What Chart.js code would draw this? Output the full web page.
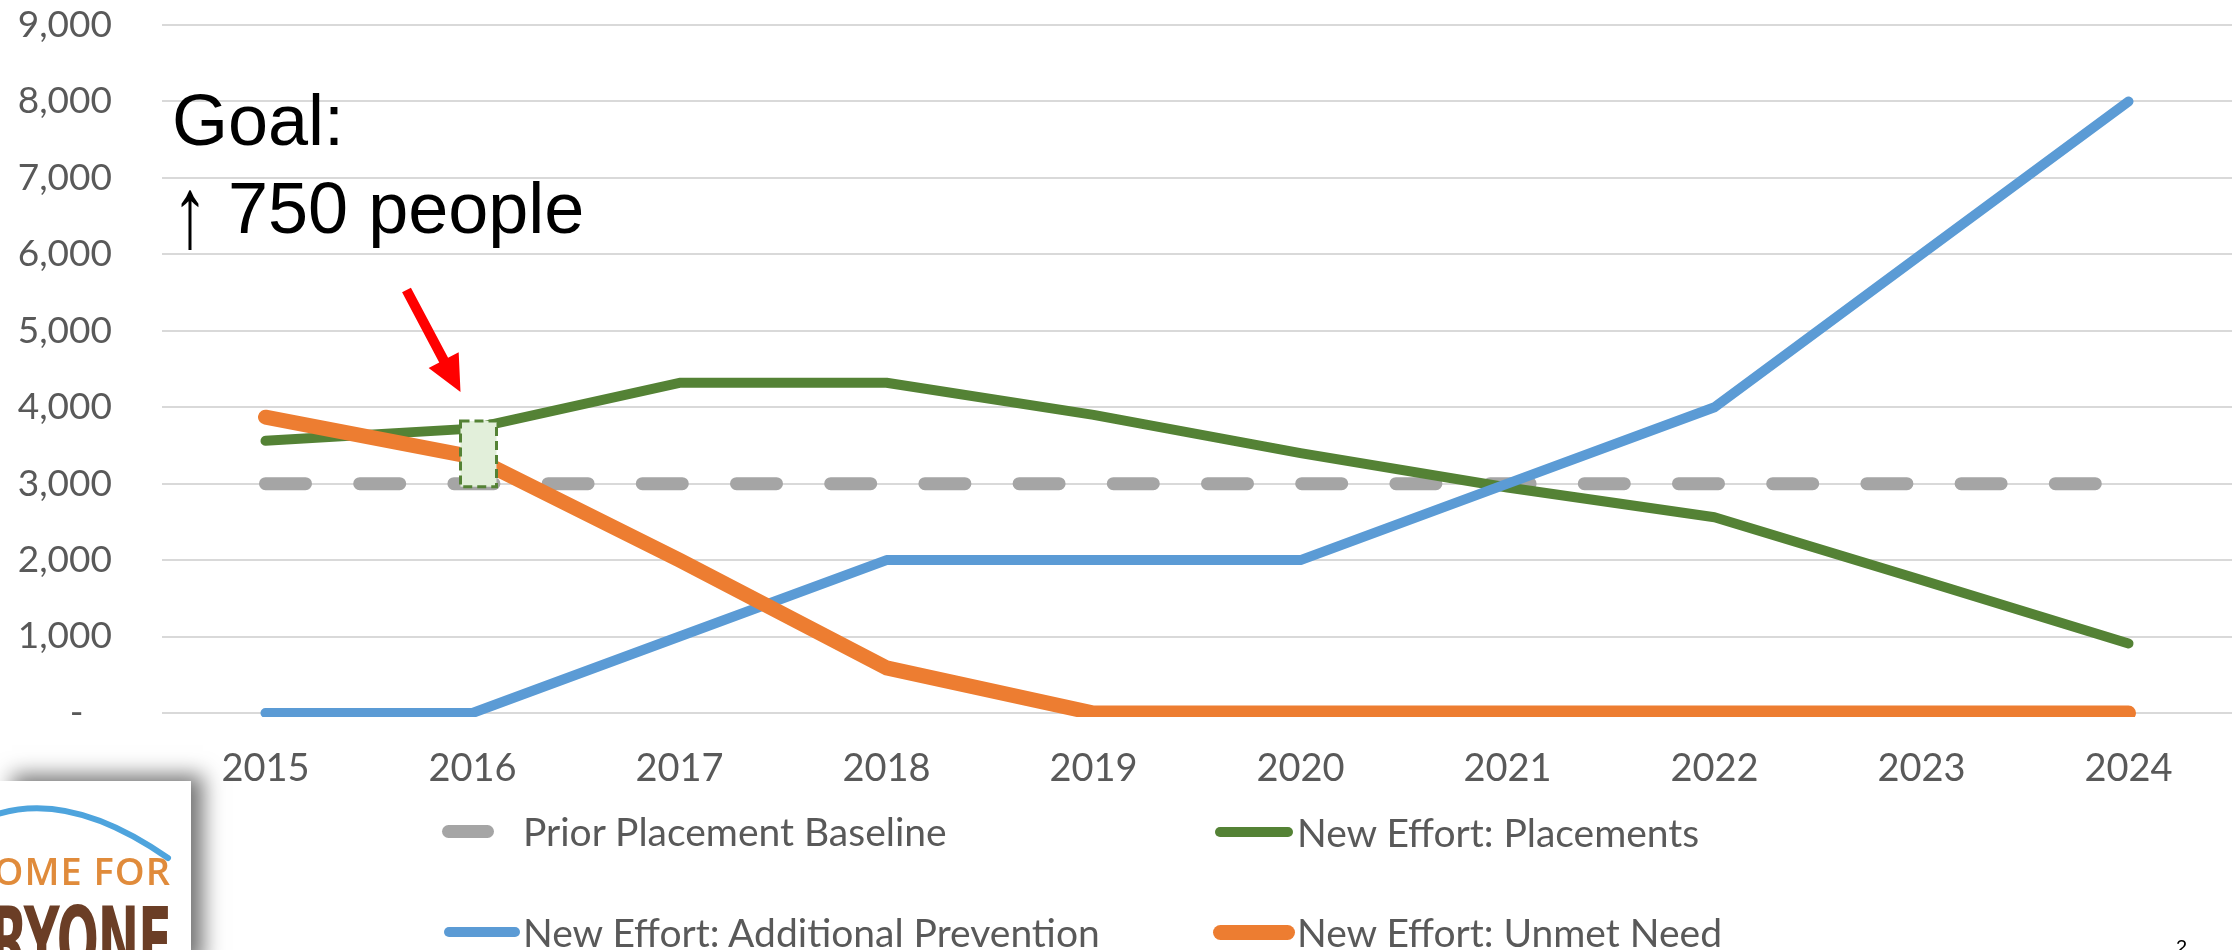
<!DOCTYPE html>
<html>
<head>
<meta charset="utf-8">
<script src="https://cdn.jsdelivr.net/npm/chart.js@4.4.1/dist/chart.umd.min.js"></script>
<style>
  html, body { margin: 0; padding: 0; background: #fff; }
  .slide { position: relative; width: 2239px; height: 950px; overflow: hidden; background: #fff; }
  #chart { position: absolute; left: 0; top: 0; }
  .goal { position: absolute; left: 172px; top: 76px; font-family: "Liberation Sans", Arial, sans-serif;
          font-size: 72px; line-height: 88px; color: #000; white-space: nowrap; }
  .goal .up { display: inline-block; transform: translateY(4px) scaleY(1.4); }
  .legend-item { position: absolute; height: 48px; font-family: Lato, sans-serif; font-size: 39px;
                 line-height: 48px; color: #595959; white-space: nowrap; }
  .legend-item .sym { position: absolute; top: 50%; border-radius: 10px; }
  .legend-item .txt { position: absolute; top: 0; }
  .logo { position: absolute; left: 0; top: 781px; width: 191px; height: 190px; background: #fff;
          box-shadow: 12px -6px 20px rgba(0,0,0,0.55); overflow: hidden; }
  .logo .home { position: absolute; right: 20px; top: 68px; font-family: "Open Sans", sans-serif;
                font-weight: 600; font-size: 38px; line-height: 42px; color: #e08b3b; letter-spacing: 1px;
                white-space: nowrap; }
  .logo .every { position: absolute; right: 20px; top: 118px; font-family: "Liberation Sans Narrow", "DejaVu Sans Condensed", sans-serif;
                 font-weight: bold; font-size: 55px; line-height: 50px; color: #6b3e26; white-space: nowrap;
                 transform: scaleY(1.65); transform-origin: right top; letter-spacing: -1px; }
  .pageno { position: absolute; left: 2176px; top: 936px; font-family: "Liberation Sans", Arial, sans-serif;
            font-size: 20px; color: #000; }
</style>
</head>
<body>
<div class="slide">
  <canvas id="chart" width="2239" height="950"></canvas>
  <div class="goal">Goal:<br><span class="up">↑</span> 750 people</div>
  <div id="legend"></div>
  <div class="logo">
    <svg width="191" height="190" style="position:absolute;left:0;top:0">
      <path d="M -20 40 Q 60 2 168 77" fill="none" stroke="#4ea4dd" stroke-width="6" stroke-linecap="round"/>
    </svg>
    <div class="home">HOME FOR</div>
    <div class="every">EVERYONE</div>
  </div>
  <div class="pageno">2</div>
</div>
<script>
const years = ["2015", "2016", "2017", "2018", "2019", "2020", "2021", "2022", "2023", "2024"];
const priorBaseline = [3000, 3000, 3000, 3000, 3000, 3000, 3000, 3000, 3000, 3000];
const placements = [3560, 3720, 4320, 4320, 3900, 3400, 2950, 2560, 1740, 910];
const prevention = [0, 0, 1000, 2000, 2000, 2000, 3000, 4000, 6000, 8000];
const unmetNeed = [3870, 3350, 2000, 590, 0, 0, 0, 0, 0, 0];
const seriesNames = ["Prior Placement Baseline", "New Effort: Placements", "New Effort: Additional Prevention", "New Effort: Unmet Need"];
const seriesColors = ["#a5a5a5", "#548235", "#5b9bd5", "#ed7d31"];
const yMax = 9000;
const yStep = 1000;
// goal box at 2016: from the baseline up past the new placements
const goalYear = "2016";
const goalRange = [2960, 3820];

const textGray = "#595959";

// box + red arrow on the 2016 point
const goalMarker = {
  id: "goalMarker",
  afterDatasetsDraw(chart) {
    const { ctx, scales } = chart;
    const cx = scales.x.getPixelForValue(years.indexOf(goalYear)) + 6;
    const yTop = scales.y.getPixelForValue(goalRange[1]);
    const yBot = scales.y.getPixelForValue(goalRange[0]);
    const w = 36;
    ctx.save();
    ctx.fillStyle = "#e2efda";
    ctx.fillRect(cx - w / 2, yTop, w, yBot - yTop);
    ctx.strokeStyle = "#548235";
    ctx.lineWidth = 3;
    ctx.setLineDash([9, 5]);
    ctx.strokeRect(cx - w / 2, yTop, w, yBot - yTop);
    ctx.setLineDash([]);

    // arrow
    const tipX = cx - w / 2, tipY = yTop - 29;
    const tailX = tipX - 54, tailY = tipY - 102;
    const len = Math.hypot(tipX - tailX, tipY - tailY);
    const dx = (tipX - tailX) / len, dy = (tipY - tailY) / len;
    const px = -dy, py = dx;
    const headLen = 36, headHalf = 17, shaftHalf = 5;
    const bx = tipX - dx * headLen, by = tipY - dy * headLen;
    ctx.fillStyle = "#ff0000";
    ctx.beginPath();
    ctx.moveTo(tailX + px * shaftHalf, tailY + py * shaftHalf);
    ctx.lineTo(bx + px * shaftHalf, by + py * shaftHalf);
    ctx.lineTo(bx + px * headHalf, by + py * headHalf);
    ctx.lineTo(tipX, tipY);
    ctx.lineTo(bx - px * headHalf, by - py * headHalf);
    ctx.lineTo(bx - px * shaftHalf, by - py * shaftHalf);
    ctx.lineTo(tailX - px * shaftHalf, tailY - py * shaftHalf);
    ctx.closePath();
    ctx.fill();
    ctx.restore();
  },
};

function lineSet(i, data, width, order, extra) {
  return Object.assign({
    label: seriesNames[i],
    data: data,
    borderColor: seriesColors[i],
    backgroundColor: seriesColors[i],
    borderWidth: width,
    pointRadius: 0,
    tension: 0,
    fill: false,
    borderCapStyle: "round",
    borderJoinStyle: "round",
    order: order,
    clip: { left: 20, top: 20, right: 20, bottom: 4 },
  }, extra || {});
}

function buildLegend() {
  const legend = document.getElementById("legend");
  // symbol [left, right, thickness], text left, row centre
  const spots = [
    { sym: [442, 494, 13], text: 523, y: 831 },
    { sym: [1215, 1293, 10], text: 1297, y: 832 },
    { sym: [444, 520, 10], text: 523, y: 932 },
    { sym: [1213, 1295, 15], text: 1297, y: 932 },
  ];
  seriesNames.forEach((name, i) => {
    const s = spots[i];
    legend.innerHTML += `<div class="legend-item" style="left:0;top:${s.y - 24}px;width:2239px">
      <span class="sym" style="left:${s.sym[0]}px;width:${s.sym[1] - s.sym[0]}px;height:${s.sym[2]}px;margin-top:${-s.sym[2] / 2}px;background:${seriesColors[i]}"></span>
      <span class="txt" style="left:${s.text}px">${name}</span>
    </div>`;
  });
}

function draw() {
  buildLegend();
  const ctx = document.getElementById("chart").getContext("2d");
  new Chart(ctx, {
    type: "line",
    data: {
      labels: years,
      datasets: [
        lineSet(0, priorBaseline, 13, 4, { borderDash: [40, 54.2] }),
        lineSet(1, placements, 10, 3),
        lineSet(2, prevention, 10, 2),
        lineSet(3, unmetNeed, 15, 1),
      ],
    },
    options: {
      responsive: false,
      animation: false,
      layout: { padding: { top: 25, right: 7, bottom: 0, left: 0 } },
      plugins: {
        legend: { display: false },
        tooltip: { enabled: false },
      },
      scales: {
        x: {
          offset: true,
          grid: { display: false, drawTicks: false },
          border: { display: false },
          ticks: {
            color: textGray,
            font: { family: "Lato", size: 38 },
            padding: 33,
            maxRotation: 0,
            autoSkip: false,
          },
          afterFit(scale) {
            scale.height = 237;
            scale.paddingLeft = 0;
            scale.paddingRight = 0;
          },
        },
        y: {
          min: 0,
          max: yMax,
          grid: { color: "#d9d9d9", lineWidth: 2, drawTicks: false },
          border: { display: false },
          ticks: {
            stepSize: yStep,
            color: textGray,
            font: { family: "Lato", size: 37 },
            padding: 50,
            callback: (v) => (v === 0 ? "-   " : v.toLocaleString("en-US")),
          },
          afterFit(scale) {
            scale.width = 162;
            scale.paddingTop = 0;
            scale.paddingBottom = 0;
          },
        },
      },
    },
    plugins: [goalMarker],
  });
}

if (document.fonts && document.fonts.load) {
  Promise.all([document.fonts.load("37px Lato"), document.fonts.load("72px 'Liberation Sans'")]).then(draw, draw);
} else {
  draw();
}
</script>
</body>
</html>
